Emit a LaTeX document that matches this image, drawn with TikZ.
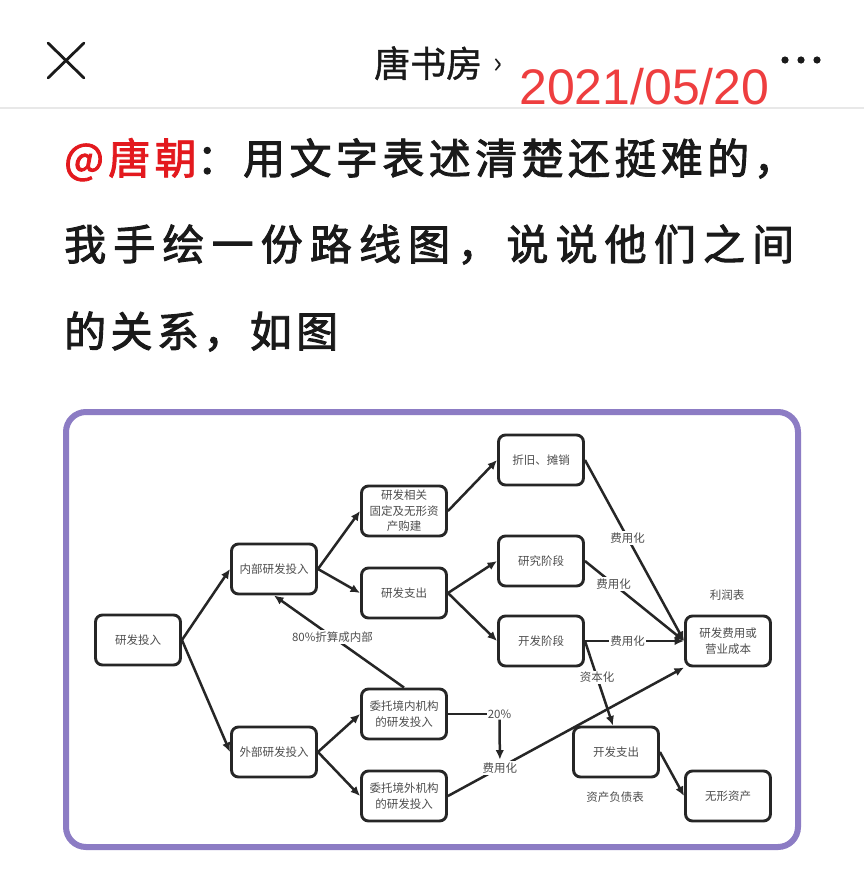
\documentclass[tikz,border=0pt]{standalone}
\usepackage{fontspec}
\setmainfont{Liberation Sans}
\newfontfamily\cjk{Noto Sans CJK SC}
\newfontfamily\cjktitle[FakeBold=1.2]{Noto Sans CJK SC}
\newfontfamily\cjkheadA[LetterSpace=10.5, FakeBold=2.2]{Noto Sans CJK SC}
\newfontfamily\cjkheadB[LetterSpace=17, FakeBold=2.2]{Noto Sans CJK SC}
\usetikzlibrary{arrows.meta}
\definecolor{frameC}{HTML}{8C7CC4}
\definecolor{lineC}{HTML}{262626}
\definecolor{txtC}{HTML}{4D4D4D}
\definecolor{redA}{HTML}{E3191E}
\definecolor{redB}{HTML}{EE3E3F}
\definecolor{headC}{HTML}{1A1A1A}
\tikzset{
  box/.style={draw=lineC, line width=2.9pt, rounded corners=7pt, minimum width=85pt,
    minimum height=50pt, align=center, text=txtC, inner sep=2pt,
    font=\cjk\fontsize{11.5}{15.5}\selectfont},
  lab/.style={fill=white, text=txtC, inner sep=1.5pt, font=\cjk\fontsize{11.5}{15}\selectfont},
  plainlab/.style={text=txtC, inner sep=1pt, font=\cjk\fontsize{11.5}{15}\selectfont},
  conn/.style={draw=lineC, line width=2.5pt},
  arr/.style={conn, -{Latex[length=9.5pt,width=8.5pt]}},
  headA/.style={anchor=base west, inner sep=0pt, text=headC,
    font=\cjkheadA\fontsize{42}{42}\selectfont},
  headB/.style={anchor=base west, inner sep=0pt, text=headC,
    font=\cjkheadB\fontsize{42}{42}\selectfont},
}
\begin{document}
\begin{tikzpicture}[x=1pt,y=-1pt]
\useasboundingbox (0,0) rectangle (864,894);
\fill[white] (0,0) rectangle (864,894);

% top bar
\draw[line width=2.8pt, color=headC, line cap=round] (48,43) -- (84,78);
\draw[line width=2.8pt, color=headC, line cap=round] (84,43) -- (48,78);
\node[anchor=base west, inner sep=0pt, text=headC, font=\cjktitle\fontsize{36}{36}\selectfont] (title) at (374,77) {唐书房};
\node[anchor=base west, inner sep=0pt, text=headC, font=\cjk\fontsize{30}{30}\selectfont] (chev) at (493,73) {›};
\node[anchor=base west, inner sep=0pt, text=redB, font=\fontsize{50}{50}\selectfont] (date) at (519,104) {2021/05/20};
\fill[headC] (785,60) circle (3.6) (801,60) circle (3.6) (817,60) circle (3.6);
\draw[color=black!9, line width=1.5pt] (0,108) -- (864,108);

% heading
\node[headA] (h1) at (64,174) {\textcolor{redA}{@唐朝}：用文字表述清楚还挺难的，};
\node[headB] (h2) at (64,260) {我手绘一份路线图，说说他们之间};
\node[headA] (h3) at (64,347) {的关系，如图};

% frame
\draw[draw=frameC, line width=6pt, rounded corners=20pt] (66,412) rectangle (798,847);

% nodes
\node[box] (yt) at (138,640) {研发投入};
\node[box] (nb) at (274,569) {内部研发投入};
\node[box] (xg) at (404,511) {研发相关\\固定及无形资\\产购建};
\node[box] (zc) at (404,593) {研发支出};
\node[box] (zj) at (541,460) {折旧、摊销};
\node[box] (yj) at (541,561) {研究阶段};
\node[box] (kf) at (541,641) {开发阶段};
\node[box] (fee) at (728,641) {研发费用或\\营业成本};
\node[box] (wb) at (274,752) {外部研发投入};
\node[box] (wtn) at (404,714) {委托境内机构\\的研发投入};
\node[box] (wtw) at (404,796) {委托境外机构\\的研发投入};
\node[box] (kfzc) at (616,752) {开发支出};
\node[box] (wx) at (728,796) {无形资产};
\node[plainlab] (lrb) at (727,595) {利润表};
\node[plainlab] (zcfz) at (615,797) {资产负债表};
\node[plainlab] (p20) at (499.5,714) {20\%};

% connectors
\draw[arr] (yt.east) -- (nb.west);
\draw[arr] (yt.east) -- (wb.west);
\draw[arr] (nb.east) -- (xg.west);
\draw[arr] (nb.east) -- (zc.west);
\draw[arr] (xg.east) -- (zj.west);
\draw[arr] (zc.east) -- (yj.west);
\draw[arr] (zc.east) -- (kf.west);
\draw[arr] (zj.east) -- node[lab, pos=0.43] (fy1) {费用化} (fee.west);
\draw[arr] (yj.east) -- node[lab, pos=0.29] (fy2) {费用化} (fee.west);
\draw[arr] (kf.east) -- node[lab, pos=0.43] (fy3) {费用化} (fee.west);
\draw[arr] (kf.east) -- node[lab, pos=0.43] (zbh) {资本化} ([xshift=-3pt]kfzc.north);
\draw[arr] (kfzc.east) -- (wx.west);
\draw[arr] (wb.east) -- (wtn.west);
\draw[arr] (wb.east) -- (wtw.west);
\draw[arr] (wtn.north) -- node[lab, pos=0.55] (p80) {80\%折算成内部} (nb.south);
\draw[conn] (wtn.east) -- (p20.west);
\draw[arr] (wtw.east) -- node[lab, pos=0.22] (fy4) {费用化} (fee.south west);
\draw[arr] (p20.south) -- (fy4.north);
\end{tikzpicture}
\end{document}
